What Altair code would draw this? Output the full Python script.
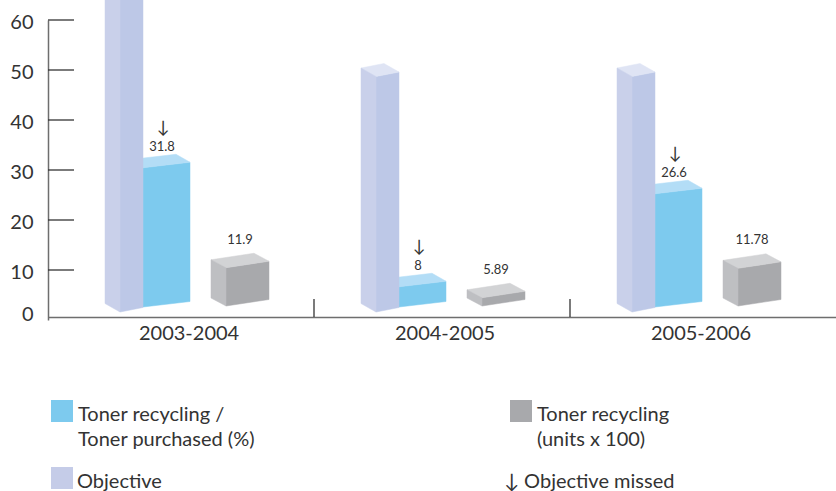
import json

import altair as alt
import pandas as pd

# ---- data -----------------------------------------------------------------
periods = ["2003-2004", "2004-2005", "2005-2006"]
objective = [70, 50, 50]                 # objective (%)
toner_share = [31.8, 8, 26.6]            # toner recycling / toner purchased (%)
toner_units = [11.9, 5.89, 11.78]        # toner recycling (units x 100)
objective_missed = [True, True, True]
y_ticks = [0, 10, 20, 30, 40, 50, 60]

legend_labels = {
    "share": "Toner recycling /\nToner purchased (%)",
    "units": "Toner recycling\n(units x 100)",
    "objective": "Objective",
    "missed": "\u2193 Objective missed",
}

# ---- look -----------------------------------------------------------------
FONT = "Lato"
TEXT = "#333333"
AXIS_GREY = "#6e6e6e"

PLOT_W, PLOT_H = 788, 300
PAD_LEFT, PAD_TOP = 48, 20
TOTAL_H = 491
PX_PER_PERIOD = 256          # horizontal room of one period
LEAD_PX = 10                 # gap between the y axis and the first period
PX_PER_UNIT = PLOT_H / 60

# pseudo-3D boxes: corner = front-left edge (px from period start),
# depth/drop = receding side, rise = tilt of the front face, base = floor level
BOX = {
    "objective": dict(corner=62, width=23, depth=15, drop=8.5, rise=4.5, base=1.6,
                      left="#c9d0ea", front="#bdc8e7", top="#dfe4f4"),
    "share": dict(corner=85, width=47, depth=14, drop=8, rise=5.5, base=2.6,
                  left=None, front="#7dcaee", top="#b3ddf6"),
    "units": dict(corner=168, width=43, depth=15, drop=8, rise=6.5, base=2.8,
                  left="#bebfc2", front="#a8a9ac", top="#d2d3d5"),
}
LEGEND_FILL = {"share": "#7dcaee", "units": "#a8a9ac", "objective": "#c5cce8"}

x_scale = alt.Scale(domain=[-LEAD_PX / PX_PER_PERIOD, (PLOT_W - LEAD_PX) / PX_PER_PERIOD],
                    nice=False, zero=False)
y_scale = alt.Scale(domain=[0, 60], nice=False, zero=False)

label_expr = "{}[floor(datum.value)]".format(json.dumps(periods))

X_AXIS = alt.Axis(
    values=[i + 0.51 for i in range(len(periods))], labelExpr=label_expr,
    title=None, ticks=False, grid=False, offset=-3,
    domainColor=AXIS_GREY, domainWidth=1.5,
    labelFont=FONT, labelFontSize=20, labelColor=TEXT, labelPadding=6,
)
Y_AXIS = alt.Axis(
    values=y_ticks, title=None, ticks=False, grid=False,
    domainColor=AXIS_GREY, domainWidth=1.5,
    labelFont=FONT, labelFontSize=20, labelColor=TEXT, labelPadding=15,
    labelOffset=alt.condition("datum.value == 0", alt.value(-6), alt.value(2)),
)


def X(field):
    return alt.X(field, scale=x_scale, axis=X_AXIS)


def Y(field):
    return alt.Y(field, scale=y_scale, axis=Y_AXIS)


def up(px):
    """Pixel height expressed in value units."""
    return px / PX_PER_UNIT


def box_faces(name, values):
    s = BOX[name]
    c, w, d = s["corner"], s["width"], s["depth"]
    rows = []
    for i, v in enumerate(values):
        # the top face is centred on the value
        v0 = v - up((s["rise"] + s["drop"]) / 2)
        b = s["base"]
        faces = {
            "front": [(c, b), (c + w, b + up(s["rise"])), (c + w, v0 + up(s["rise"])), (c, v0)],
            "top": [(c, v0), (c + w, v0 + up(s["rise"])),
                    (c + w - d, v0 + up(s["rise"] + s["drop"])), (c - d, v0 + up(s["drop"]))],
        }
        if s["left"]:
            faces["left"] = [(c, b), (c - d, b + up(s["drop"])), (c - d, v0 + up(s["drop"])), (c, v0)]
        for face, pts in faces.items():
            pts = pts + pts[:1]
            for k, (rx, yv) in enumerate(pts):
                rows.append(dict(poly=f"{name}-{i}-{face}", k=k,
                                 x=i + rx / PX_PER_PERIOD, y=yv, fill=s[face]))
    return pd.DataFrame(rows)


def boxes(name, values):
    return alt.Chart(box_faces(name, values)).mark_line(
        filled=True, strokeWidth=0.5, interpolate="linear"
    ).encode(
        x=X("x:Q"),
        y=Y("y:Q"),
        order="k:Q",
        detail="poly:N",
        color=alt.Color("fill:N", scale=None),
        stroke=alt.Stroke("fill:N", scale=None),
    )


# ---- axis ticks (drawn inward) --------------------------------------------
y_axis_ticks = alt.Chart(pd.DataFrame({"y": [t for t in y_ticks if t > 0]})).mark_rule(
    color=TEXT, strokeWidth=1.3
).encode(y=Y("y:Q"), x=alt.value(0), x2=alt.value(26))

period_bounds = alt.Chart(pd.DataFrame({"x": [1, 2]})).mark_rule(
    color=TEXT, strokeWidth=1.3
).encode(x=X("x:Q"), y=alt.value(PLOT_H - 21), y2=alt.value(PLOT_H - 3))

# ---- value labels ---------------------------------------------------------
share_df = pd.DataFrame({
    "x": [i + 104 / PX_PER_PERIOD for i in range(len(periods))],
    "y": toner_share,
    "label": [f"{v:g}" for v in toner_share],
    "missed": objective_missed,
})
units_df = pd.DataFrame({
    "x": [i + 182 / PX_PER_PERIOD for i in range(len(periods))],
    "y": toner_units,
    "label": [f"{v:g}" for v in toner_units],
})

share_labels = alt.Chart(share_df).mark_text(
    font=FONT, fontSize=13, color=TEXT, baseline="middle", dy=-14
).encode(x=X("x:Q"), y=Y("y:Q"), text="label:N")

missed_arrows = alt.Chart(share_df).transform_filter("datum.missed").mark_text(
    font=FONT, fontSize=17, color=TEXT, baseline="middle", dy=-33, dx=1
).encode(x=X("x:Q"), y=Y("y:Q"), text=alt.value("\u2193"))

units_labels = alt.Chart(units_df).mark_text(
    font=FONT, fontSize=13, color=TEXT, baseline="middle", dy=-21
).encode(x=X("x:Q"), y=Y("y:Q"), text="label:N")

# ---- legend ---------------------------------------------------------------
COL_X = [3, 462]          # swatch left edge per column (px in plot coords)
ROW_Y = [380, 447]        # swatch top edge per row
SWATCH = 22
TEXT_GAP = 5


def swatch(key, col, row):
    x0, y0 = COL_X[col], ROW_Y[row]
    return alt.Chart(pd.DataFrame({"k": [key]})).mark_rect(color=LEGEND_FILL[key]).encode(
        x=alt.value(x0), x2=alt.value(x0 + SWATCH), y=alt.value(y0), y2=alt.value(y0 + SWATCH)
    )


def legend_text(key, x, row):
    return alt.Chart(pd.DataFrame({"t": [legend_labels[key]]})).mark_text(
        font=FONT, fontSize=20, color=TEXT, align="left", baseline="alphabetic",
        lineBreak="\n", lineHeight=25
    ).encode(x=alt.value(x), y=alt.value(ROW_Y[row] + 21), text="t:N")


legend = [
    swatch("share", 0, 0), legend_text("share", COL_X[0] + SWATCH + TEXT_GAP, 0),
    swatch("units", 1, 0), legend_text("units", COL_X[1] + SWATCH + TEXT_GAP, 0),
    swatch("objective", 0, 1), legend_text("objective", COL_X[0] + SWATCH + TEXT_GAP - 1, 1),
    legend_text("missed", COL_X[1] - 6, 1),
]

chart = alt.layer(
    y_axis_ticks,
    period_bounds,
    boxes("share", toner_share),
    boxes("objective", objective),
    boxes("units", toner_units),
    share_labels,
    missed_arrows,
    units_labels,
    *legend,
).properties(
    width=PLOT_W,
    height=PLOT_H,
    background="white",
    autosize=alt.AutoSizeParams(type="none"),
    padding={"left": PAD_LEFT, "top": PAD_TOP, "right": 0,
             "bottom": TOTAL_H - PAD_TOP - PLOT_H},
).configure_view(stroke=None)

chart.save("out.html", embed_options={"renderer": "svg", "actions": False})
